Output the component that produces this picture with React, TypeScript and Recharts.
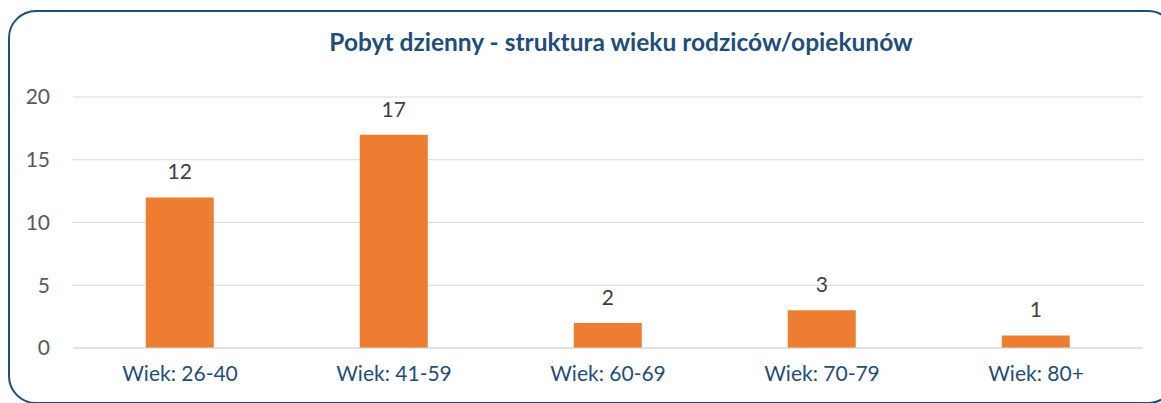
import React from "react";
import { BarChart, Bar, XAxis, YAxis, CartesianGrid, LabelList } from "recharts";

const categories = ["Wiek: 26-40", "Wiek: 41-59", "Wiek: 60-69", "Wiek: 70-79", "Wiek: 80+"];
const values = [12, 17, 2, 3, 1];
const yTicks = [0, 5, 10, 15, 20];
const title = "Pobyt dzienny - struktura wieku rodziców/opiekunów";

const data = categories.map((c, i) => ({ name: c, value: values[i] }));

const FONT = "Lato, 'Open Sans', sans-serif";

export default function App() {
  return (
    <div
      style={{
        position: "absolute",
        left: 0,
        top: 0,
        width: 1161,
        height: 403,
        overflow: "hidden",
        background: "#fff",
        fontFamily: FONT,
      }}
    >
      <div
        style={{
          position: "absolute",
          left: 8,
          top: 10,
          width: 1168,
          height: 394,
          border: "2px solid #1f4e79",
          borderRadius: 28,
          boxSizing: "border-box",
        }}
      />
      <div
        style={{
          position: "absolute",
          left: 0,
          width: 1242,
          top: 27,
          textAlign: "center",
          fontWeight: 700,
          fontSize: 24.5,
          color: "#1f4e79",
          lineHeight: "30px",
        }}
      >
        {title}
      </div>
      <div style={{ position: "absolute", left: 0, top: 0 }}>
        <BarChart
          width={1161}
          height={403}
          data={data}
          margin={{ top: 97, right: 18, left: 0, bottom: 25 }}
          barCategoryGap="34%"
        >
          <CartesianGrid vertical={false} stroke="#d9d9d9" strokeWidth={1} />
          <XAxis
            dataKey="name"
            axisLine={{ stroke: "#d9d9d9", strokeWidth: 1 }}
            tickLine={false}
            tickMargin={12}
            tick={{ fill: "#1f4e79", fontSize: 21, fontFamily: FONT }}
            interval={0}
          />
          <YAxis
            width={73}
            domain={[0, 20]}
            ticks={yTicks}
            axisLine={false}
            tickLine={false}
            tickMargin={17}
            tick={{ fill: "#595959", fontSize: 21, fontFamily: FONT }}
          />
          <Bar dataKey="value" fill="#ed7d31" isAnimationActive={false}>
            <LabelList
              dataKey="value"
              position="top"
              offset={18}
              fill="#404040"
              fontSize={21}
              fontFamily={FONT}
            />
          </Bar>
        </BarChart>
      </div>
    </div>
  );
}
